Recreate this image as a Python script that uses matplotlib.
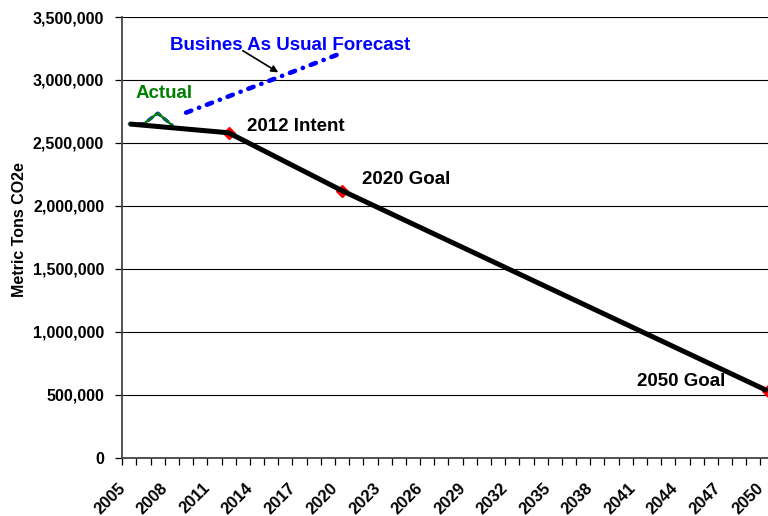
import matplotlib.pyplot as plt
from matplotlib.ticker import FuncFormatter, MultipleLocator
from matplotlib.transforms import blended_transform_factory, ScaledTranslation

# Data
target_years = [2005, 2012, 2020, 2050]
target_vals = [2650000, 2580000, 2120000, 530000]
goal_years = [2012, 2020, 2050]
goal_vals = [2580000, 2120000, 530000]
actual_years = [2005, 2006, 2007, 2008]
actual_vals = [2650000, 2650000, 2736000, 2641000]
bau_years = [2009, 2020]
bau_vals = [2740000, 3215000]
label_years = list(range(2005, 2051, 3))

plt.rcParams['font.family'] = ['Liberation Sans', 'DejaVu Sans']
plt.rcParams['font.weight'] = 'bold'

fig = plt.figure(figsize=(7.68, 5.16), dpi=100)
ax = fig.add_axes([122.3 / 768, 58.5 / 516, 652.3 / 768, 440.5 / 516])

# business as usual (dash-dot, blue); the first part sits under the actual line
bau_style = dict(color='#0000ff', lw=3.3, linestyle=(0, (1.2, 1.8, 0.05, 1.8)),
                 dash_capstyle='round', zorder=3)
ax.plot(actual_years, actual_vals, color='#0000ff', lw=2.4,
        linestyle=(0, (1.5, 1.5)), dash_capstyle='round', zorder=3)
ax.plot(bau_years, bau_vals, **bau_style)
# actual
ax.plot(actual_years, actual_vals, color='#008000', lw=1.7, zorder=4)
# red goal markers under the black target line
ax.plot(goal_years, goal_vals, linestyle='none', marker='D', markersize=6,
        markerfacecolor='red', markeredgecolor='red', zorder=4, clip_on=False)
ax.plot(target_years, target_vals, color='black', lw=3.6,
        solid_capstyle='butt', zorder=5)

ax.set_xlim(2004.5, 2050.5)
ax.set_ylim(0, 3500000)

ax.yaxis.set_major_locator(MultipleLocator(500000))
ax.yaxis.set_major_formatter(FuncFormatter(lambda v, p: f"{int(v):,}"))
ax.grid(axis='y', color='black', lw=0.8)
ax.set_axisbelow(True)

# category boundaries as ticks, year labels drawn as rotated texts
ax.set_xticks([y - 0.5 for y in range(2005, 2052)])
ax.set_xticklabels([])
ax.tick_params(axis='x', length=5, width=0.9, direction='out')
ax.tick_params(axis='y', length=5, width=0.9, direction='out', labelsize=11.5, pad=8)
for lbl in ax.get_yticklabels():
    lbl.set_fontweight('bold')

trans = blended_transform_factory(ax.transData, ax.transAxes) + \
    ScaledTranslation(-12 / 100, -23 / 100, fig.dpi_scale_trans)
for yr in label_years:
    ax.text(yr, 0, str(yr), transform=trans, rotation=45, ha='right', va='top',
            rotation_mode='anchor', fontsize=12, fontweight='bold', clip_on=False)

for s in ['top', 'right']:
    ax.spines[s].set_visible(False)
for s in ['left', 'bottom']:
    ax.spines[s].set_color('#444444')
    ax.spines[s].set_linewidth(1.3)

ax.set_ylabel('Metric Tons CO2e', fontsize=11.5, fontweight='bold')
ax.yaxis.set_label_coords((27 - 122.3) / 652.3, (516 - 230 - 58.5) / 440.5)

# annotations
ax.text(2007.86, 3277000, 'Busines As Usual Forecast', color='#0000ff',
        fontsize=13.5, fontweight='bold', va='center')
ax.annotate('', xy=(2015.5, 3060000), xytext=(2013.0, 3232000),
            arrowprops=dict(arrowstyle='-|>', color='black', lw=1.2,
                            mutation_scale=10, shrinkA=0, shrinkB=0))
ax.text(2005.4, 2895000, 'Actual', color='#008000', fontsize=13.5,
        fontweight='bold', va='center')
ax.text(2013.29, 2633000, '2012 Intent', color='black', fontsize=13.5,
        fontweight='bold', va='center')
ax.text(2021.41, 2211000, '2020 Goal', color='black', fontsize=13.5,
        fontweight='bold', va='center')
ax.text(2040.8, 605000, '2050 Goal', color='black', fontsize=13.5,
        fontweight='bold', va='center')

fig.savefig('out.png', dpi=100)
